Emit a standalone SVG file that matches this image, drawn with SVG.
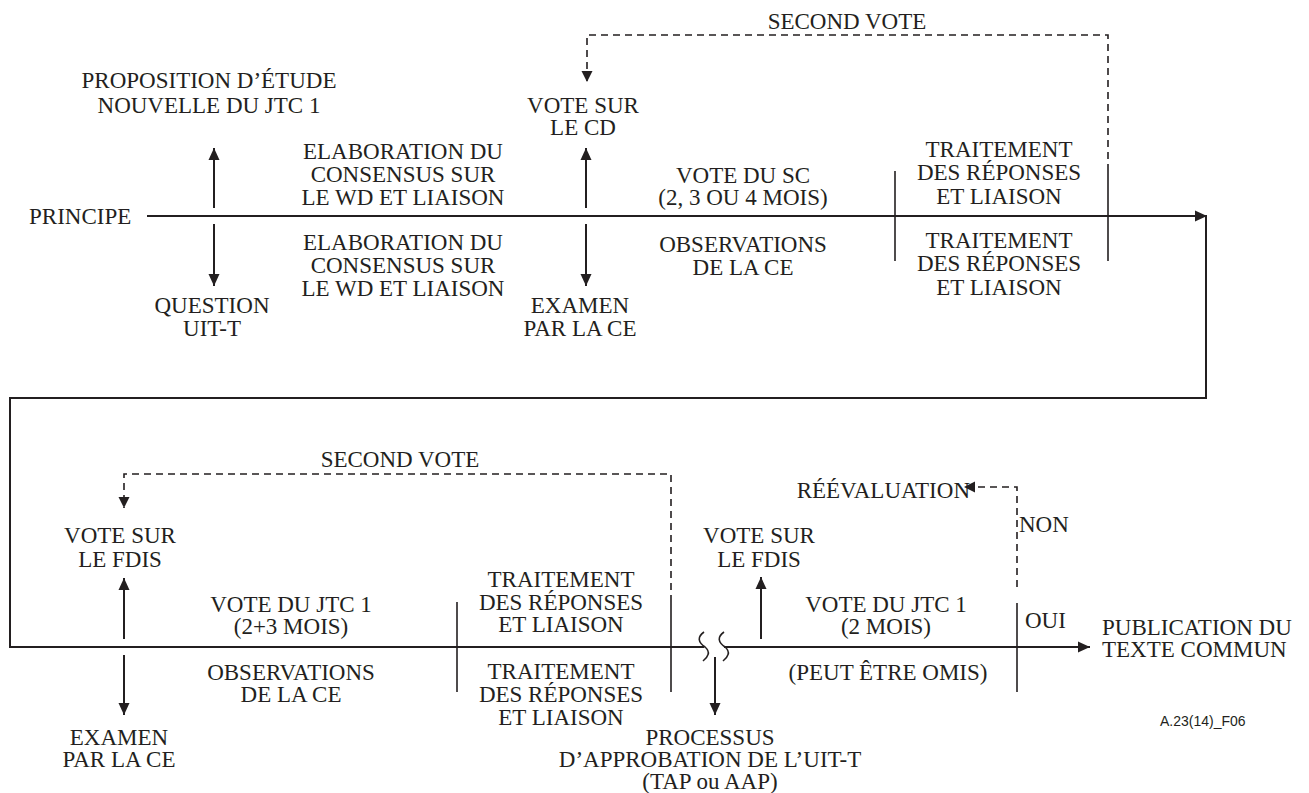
<svg xmlns="http://www.w3.org/2000/svg" width="1309" height="793" viewBox="0 0 1309 793">
<style>
.t{font-family:"Liberation Serif","Times New Roman",serif;font-size:23px;fill:#231f20;text-anchor:middle}
.s{text-anchor:start}
.e{text-anchor:end}
.ln{fill:none;stroke:#231f20;stroke-width:2}
.tk{fill:none;stroke:#231f20;stroke-width:1.6}
.da{fill:none;stroke:#231f20;stroke-width:1.6;stroke-dasharray:7 5}
.ref{font-family:"Liberation Sans",Arial,sans-serif;font-size:14px;fill:#231f20}
</style>
<defs>
<marker id="ah" viewBox="0 0 12 12" refX="12" refY="6" markerWidth="12" markerHeight="12" orient="auto" markerUnits="userSpaceOnUse">
<path d="M0,0.5 L12,6 L0,11.5 z" fill="#231f20"/>
</marker>
<marker id="ahs" viewBox="0 0 11 12" refX="11" refY="6" markerWidth="11" markerHeight="12" orient="auto" markerUnits="userSpaceOnUse">
<path d="M0,0.5 L11,6 L0,11.5 z" fill="#231f20"/>
</marker>
</defs>
<g id="connectors">
<path class="ln" d="M147,216 H1207" marker-end="url(#ah)"/>
<path class="ln" d="M1206,216 V398 H10 V647 H704"/>
<path class="ln" d="M724,647 H1090" marker-end="url(#ah)"/>
<path class="tk" d="M704,632 C697,637 698,642 705,647 C711,652 708,657 703,661"/>
<path class="tk" d="M724,632 C717,637 718,642 725,647 C731,652 728,657 723,661"/>
<path class="ln" d="M214,208 V148" marker-end="url(#ah)"/>
<path class="ln" d="M214,224 V286" marker-end="url(#ah)"/>
<path class="ln" d="M586,208 V148" marker-end="url(#ah)"/>
<path class="ln" d="M586,224 V286" marker-end="url(#ah)"/>
<path class="tk" d="M895,171 V261"/>
<path class="tk" d="M1108,171 V261"/>
<path class="da" d="M1108,171 V35 H587 V82" marker-end="url(#ahs)"/>
<path class="ln" d="M124,639 V578" marker-end="url(#ah)"/>
<path class="ln" d="M124,655 V715" marker-end="url(#ah)"/>
<path class="tk" d="M457,602 V692"/>
<path class="tk" d="M671,602 V692"/>
<path class="da" d="M671,602 V474 H124 V508" marker-end="url(#ahs)"/>
<path class="ln" d="M715,657 V715" marker-end="url(#ah)"/>
<path class="ln" d="M761,639 V577" marker-end="url(#ah)"/>
<path class="tk" d="M1017,603 V692"/>
<path class="da" d="M1017,587 V487 H964" marker-end="url(#ahs)"/>
</g>
<g id="n-proposition"><text class="t" x="209" y="88">PROPOSITION D’ÉTUDE</text><text class="t" x="209" y="113">NOUVELLE DU JTC 1</text></g>
<g id="n-principe"><text class="t s" x="29" y="224">PRINCIPE</text></g>
<g id="n-elab-top"><text class="t" x="403" y="159">ELABORATION DU</text><text class="t" x="403" y="182">CONSENSUS SUR</text><text class="t" x="403" y="205">LE WD ET LIAISON</text></g>
<g id="n-elab-bot"><text class="t" x="403" y="250">ELABORATION DU</text><text class="t" x="403" y="273">CONSENSUS SUR</text><text class="t" x="403" y="296">LE WD ET LIAISON</text></g>
<g id="n-question"><text class="t" x="212" y="313">QUESTION</text><text class="t" x="212" y="336">UIT-T</text></g>
<g id="n-vote-cd"><text class="t" x="583" y="113">VOTE SUR</text><text class="t" x="583" y="135">LE CD</text></g>
<g id="n-examen-1"><text class="t" x="580" y="313">EXAMEN</text><text class="t" x="580" y="336">PAR LA CE</text></g>
<g id="n-vote-sc"><text class="t" x="743" y="183">VOTE DU SC</text><text class="t" x="743" y="205">(2, 3 OU 4 MOIS)</text></g>
<g id="n-obs-1"><text class="t" x="743" y="252">OBSERVATIONS</text><text class="t" x="743" y="275">DE LA CE</text></g>
<g id="n-trait-top-1"><text class="t" x="999" y="157">TRAITEMENT</text><text class="t" x="999" y="180">DES RÉPONSES</text><text class="t" x="999" y="204">ET LIAISON</text></g>
<g id="n-trait-bot-1"><text class="t" x="999" y="248">TRAITEMENT</text><text class="t" x="999" y="271">DES RÉPONSES</text><text class="t" x="999" y="295">ET LIAISON</text></g>
<g id="n-second-1"><text class="t" x="847" y="29">SECOND VOTE</text></g>
<g id="n-second-2"><text class="t" x="400" y="467">SECOND VOTE</text></g>
<g id="n-vote-fdis-1"><text class="t" x="120" y="543">VOTE SUR</text><text class="t" x="120" y="567">LE FDIS</text></g>
<g id="n-examen-2"><text class="t" x="119" y="745">EXAMEN</text><text class="t" x="119" y="767">PAR LA CE</text></g>
<g id="n-vote-jtc-1"><text class="t" x="291" y="612">VOTE DU JTC 1</text><text class="t" x="291" y="634">(2+3 MOIS)</text></g>
<g id="n-obs-2"><text class="t" x="291" y="680">OBSERVATIONS</text><text class="t" x="291" y="702">DE LA CE</text></g>
<g id="n-trait-top-2"><text class="t" x="561" y="587">TRAITEMENT</text><text class="t" x="561" y="610">DES RÉPONSES</text><text class="t" x="561" y="632">ET LIAISON</text></g>
<g id="n-trait-bot-2"><text class="t" x="561" y="679">TRAITEMENT</text><text class="t" x="561" y="702">DES RÉPONSES</text><text class="t" x="561" y="725">ET LIAISON</text></g>
<g id="n-processus"><text class="t" x="710" y="745">PROCESSUS</text><text class="t" x="710" y="767">D’APPROBATION DE L’UIT-T</text><text class="t" x="710" y="789">(TAP ou AAP)</text></g>
<g id="n-vote-fdis-2"><text class="t" x="759" y="543">VOTE SUR</text><text class="t" x="759" y="567">LE FDIS</text></g>
<g id="n-reeval"><text class="t e" x="970" y="498">RÉÉVALUATION</text></g>
<g id="n-non"><text class="t s" x="1019" y="532">NON</text></g>
<g id="n-vote-jtc-2"><text class="t" x="886" y="612">VOTE DU JTC 1</text><text class="t" x="886" y="634">(2 MOIS)</text></g>
<g id="n-omis"><text class="t" x="888" y="680">(PEUT ÊTRE OMIS)</text></g>
<g id="n-oui"><text class="t s" x="1025" y="628">OUI</text></g>
<g id="n-publication"><text class="t s" x="1102" y="635">PUBLICATION DU</text><text class="t s" x="1102" y="657">TEXTE COMMUN</text></g>
<g id="n-ref"><text class="ref" x="1160" y="726">A.23(14)_F06</text></g>
</svg>
